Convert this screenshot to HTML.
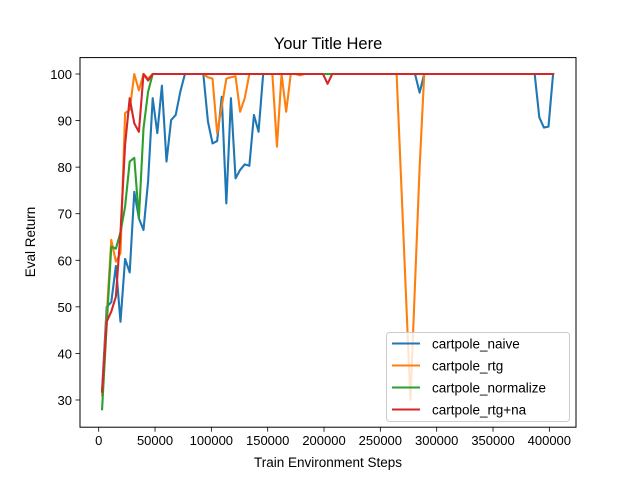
<!DOCTYPE html>
<html><head><meta charset="utf-8"><style>
body{margin:0;background:#fff}
svg{display:block;font-family:"Liberation Sans","DejaVu Sans",sans-serif}
</style></head><body>
<svg id="chart" width="640" height="480" viewBox="0 0 640 480">
<rect x="0" y="0" width="640" height="480" fill="#fff"/>
<text x="328" y="49" font-size="16.5" text-anchor="middle">Your Title Here</text>
<g id="plot"></g>
<rect x="80" y="57.6" width="496" height="369.6" fill="none" stroke="#000" stroke-width="1"/>
<text x="328" y="467" font-size="13.5" text-anchor="middle">Train Environment Steps</text>
<text x="35" y="242" font-size="13.5" text-anchor="middle" transform="rotate(-90 35 242)">Eval Return</text>
<g id="legend"></g>
</svg>
<script>
const seriesNames = ["cartpole_naive","cartpole_rtg","cartpole_normalize","cartpole_rtg+na"];
const colors = ["#1f77b4","#ff7f0e","#2ca02c","#d62728"];
const xTicks = [0,50000,100000,150000,200000,250000,300000,350000,400000];
const yTicks = [30,40,50,60,70,80,90,100];
const naive = [32,50,51,58.8,46.8,60.3,57.4,74.7,69,66.5,77,94.8,87.3,97.5,81.2,90.1,91.2,96.2,100,100,100,100,100,89.8,85.1,85.6,95.1,72.2,94.8,77.6,79.4,80.6,80.3,91.2,87.6,100,100,100,100,100,100,100,100,100,100,100,100,100,100,100,100,100,100,100,100,100,100,100,100,100,100,100,100,100,100,100,100,100,100,96,100,100,100,100,100,100,100,100,100,100,100,100,100,100,100,100,100,100,100,100,100,100,100,100,100,90.7,88.5,88.7,100];
const rtg = [31,48,64.4,59.7,61.5,91.6,92.3,100,96.5,100,99,100,100,100,100,100,100,100,100,100,100,100,100,99.3,99,87.3,93,99,99.3,99.5,91.9,94.8,100,100,100,100,100,100,84.4,100,91.9,100,100,99.7,100,100,100,100,100,100,100,100,100,100,100,100,100,100,100,100,100,100,100,100,100,76.7,53.3,30,55,80,100,100,100,100,100,100,100,100,100,100,100,100,100,100,100,100,100,100,100,100,100,100,100,100,100,100,100,100,100];
const normalize = [28,46,62.9,62.5,66,71.5,81.2,82,69,88.3,96.2,100,100,100,100,100,100,100,100,100,100,100,100,100,100,100,100,100,100,100,100,100,100,100,100,100,100,100,100,100,100,100,100,100,100,100,100,100,100,100,100,100,100,100,100,100,100,100,100,100,100,100,100,100,100,100,100,100,100,100,100,100,100,100,100,100,100,100,100,100,100,100,100,100,100,100,100,100,100,100,100,100,100,100,100,100,100,100,100];
const rtgNa = [31.8,46.8,49,52.2,66,84.8,94.8,89.4,87.6,100,98.6,100,100,100,100,100,100,100,100,100,100,100,100,100,100,100,100,100,100,100,100,100,100,100,100,100,100,100,100,100,100,100,100,100,100,100,100,100,100,97.9,100,100,100,100,100,100,100,100,100,100,100,100,100,100,100,100,100,100,100,100,100,100,100,100,100,100,100,100,100,100,100,100,100,100,100,100,100,100,100,100,100,100,100,100,100,100,100,100,100];
const stepStart = 3000, stepSize = 4085;

const NS="http://www.w3.org/2000/svg";
const xs = s => 98.7 + s*0.0011266;
const ys = v => 74 + (100-v)*4.657;
const plot=document.getElementById('plot');
function mk(tag,attrs,parent){const e=document.createElementNS(NS,tag);for(const k in attrs)e.setAttribute(k,attrs[k]);parent.appendChild(e);return e;}

xTicks.forEach(t=>{
  const x=xs(t);
  const l=mk('line',{x1:x,x2:x,y1:427.2,y2:431.7,stroke:'#000','stroke-width':0.8},plot);
  
  
  const tx=mk('text',{x:x,y:445,'font-size':13,'text-anchor':'middle'},plot);
  tx.textContent=t;
  
  
});
yTicks.forEach(t=>{
  const y=ys(t);
  const l=mk('line',{x1:75.5,x2:80,y1:y,y2:y,stroke:'#000','stroke-width':0.8},plot);
  
  
  const tx=mk('text',{x:72,y:y+5,'font-size':13,'text-anchor':'end'},plot);
  tx.textContent=t;
  
  
});
const allSeries=[naive,rtg,normalize,rtgNa];
allSeries.forEach((vals,si)=>{
  const pts=vals.map((v,i)=>xs(stepStart+stepSize*i).toFixed(2)+','+ys(v).toFixed(2)).join(' ');
  const p=mk('polyline',{points:pts,fill:'none',stroke:colors[si],'stroke-width':2.1,'stroke-linejoin':'round','stroke-linecap':'square'},plot);
  
  
});
const lg=document.getElementById('legend');
const box=mk('rect',{x:386.5,y:332.5,width:183,height:89,rx:3,fill:'#fff','fill-opacity':0.8,stroke:'#ccc'},lg);


seriesNames.forEach((n,i)=>{
  const y=343.5+i*22;
  const l=mk('line',{x1:392,x2:420,y1:y,y2:y,stroke:colors[i],'stroke-width':2.1},lg);
  
  
  const t=mk('text',{x:432,y:y+5,'font-size':13.5},lg);
  t.textContent=n;
  
  
});
</script>
</body></html>
